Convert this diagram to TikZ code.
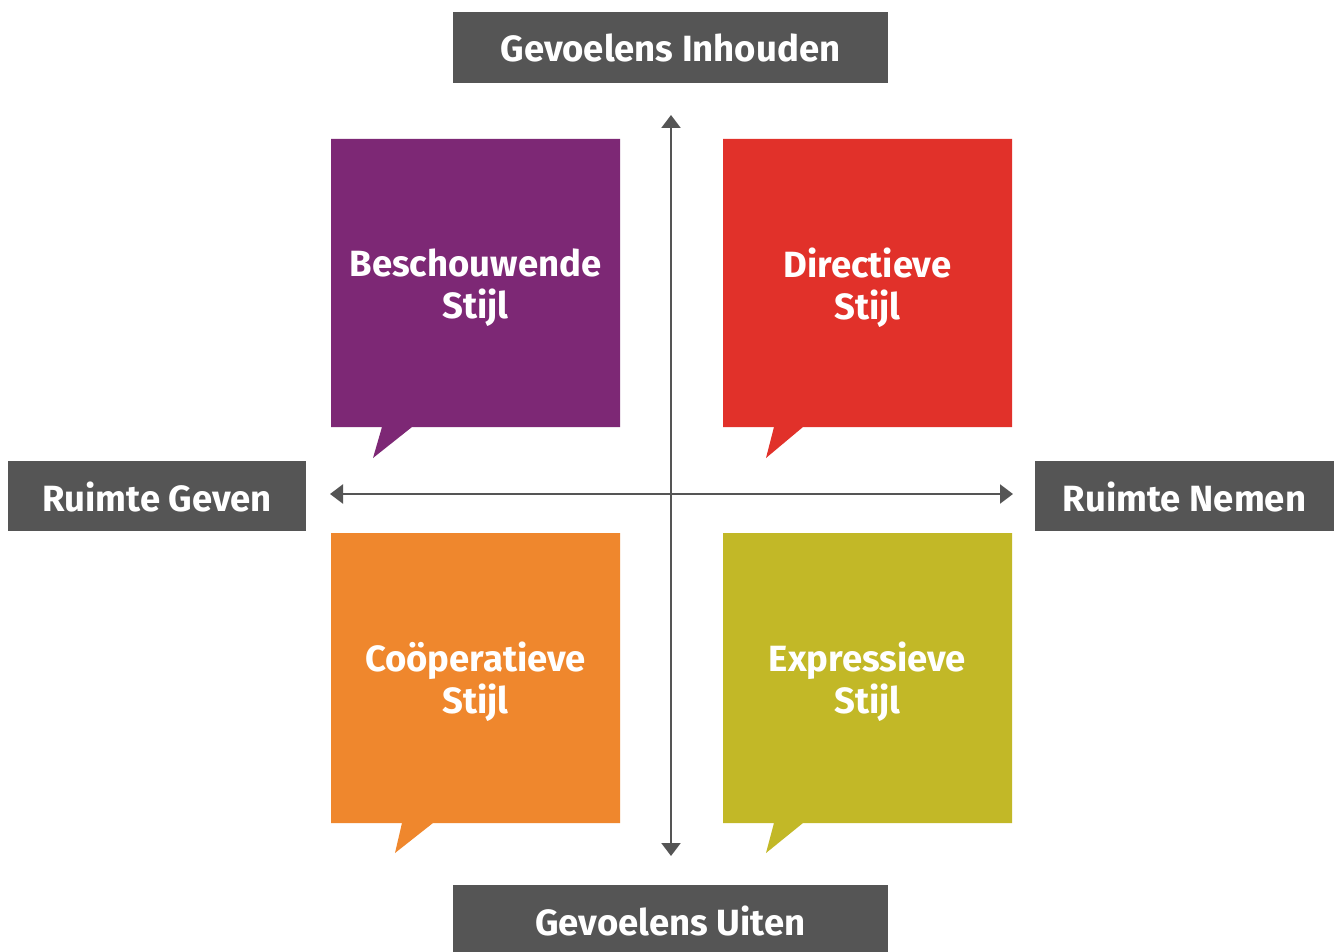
\documentclass[tikz,border=0pt]{standalone}
\usepackage{fontspec}
\setmainfont{Fira Sans}
\usetikzlibrary{arrows.meta}
\definecolor{cgray}{HTML}{555555}
\definecolor{cpurple}{HTML}{7D2875}
\definecolor{cred}{HTML}{E1312A}
\definecolor{corange}{HTML}{EF872D}
\definecolor{colive}{HTML}{C2B827}
\tikzset{
  labelbox/.style={text=white, font=\fontsize{36.5}{40}\selectfont\bfseries, inner sep=0pt},
  stylebox/.style={text=white, font=\fontsize{36.5}{42}\selectfont\bfseries, align=center, inner sep=0pt},
  axis/.style={cgray, line width=2.2pt, -{Triangle[length=13pt,width=19pt]}},
}
\begin{document}
\begin{tikzpicture}[x=1pt,y=-1pt]
\useasboundingbox (0,0) rectangle (1341,952);
\fill[white] (0,0) rectangle (1341,952);
% label boxes
\fill[cgray] (453,12) rectangle (888,83);
\node[labelbox] (top) at (670.5,48) {Gevoelens Inhouden};
\fill[cgray] (453,885) rectangle (888,952);
\node[labelbox] (bottom) at (670.5,921) {Gevoelens Uiten};
\fill[cgray] (8,461) rectangle (306,531);
\node[labelbox] (left) at (157,497) {Ruimte Geven};
\fill[cgray] (1035,461) rectangle (1334,531);
\node[labelbox] (right) at (1184.5,497) {Ruimte Nemen};
% speech boxes
\fill[cpurple] (331,139) -- (620,139) -- (620,427) -- (412,427) -- (373,458) -- (382,427) -- (331,427) -- cycle;
\node[stylebox] (beschouwende) at (475.5,288) {Beschouwende\\Stijl};
\fill[cred] (723,139) -- (1012,139) -- (1012,427) -- (803,427) -- (766,458) -- (774,427) -- (723,427) -- cycle;
\node[stylebox] (directieve) at (867.5,288) {Directieve\\Stijl};
\fill[corange] (331,533) -- (620,533) -- (620,823) -- (433,823) -- (395,853) -- (402,823) -- (331,823) -- cycle;
\node[stylebox] (cooperatieve) at (475.5,682) {Coöperatieve\\Stijl};
\fill[colive] (723,533) -- (1012,533) -- (1012,823) -- (803,823) -- (766,853) -- (774,823) -- (723,823) -- cycle;
\node[stylebox] (expressieve) at (867.5,682) {Expressieve\\Stijl};
% axes
\coordinate (c) at (671,494);
\coordinate (n) at (671,115);
\coordinate (s) at (671,856);
\coordinate (w) at (330,494);
\coordinate (e) at (1013,494);
\draw[axis] (c) -- (n);
\draw[axis] (c) -- (s);
\draw[axis] (c) -- (w);
\draw[axis] (c) -- (e);
\end{tikzpicture}
\end{document}
